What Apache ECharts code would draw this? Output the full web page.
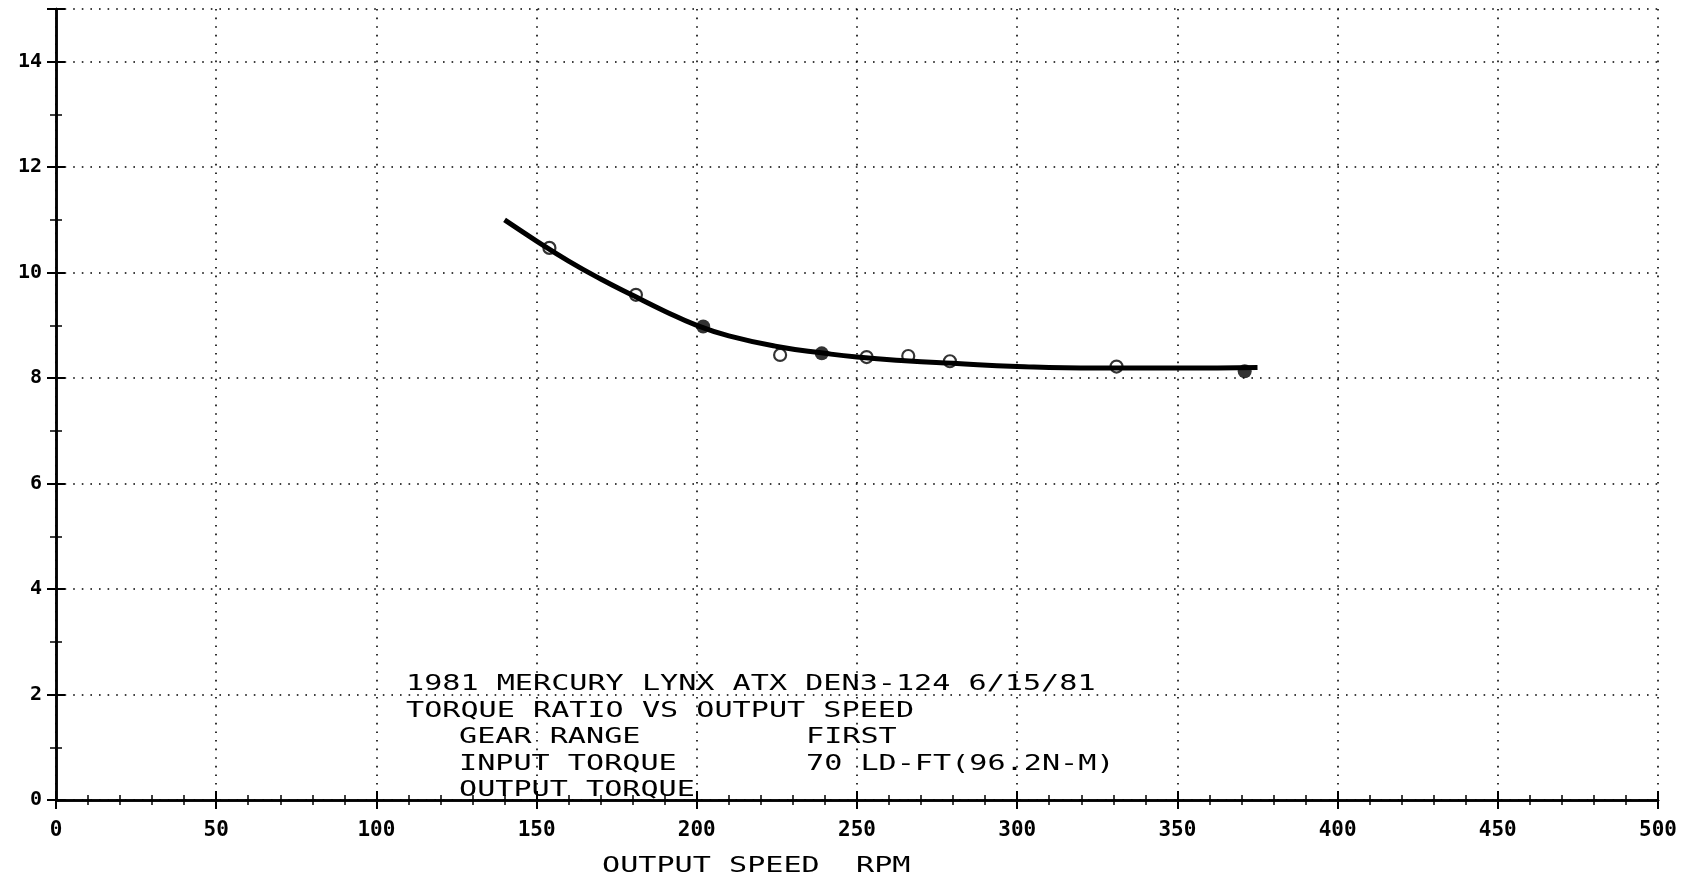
<!DOCTYPE html>
<html>
<head>
<meta charset="utf-8">
<script src="https://cdn.jsdelivr.net/npm/echarts@6/dist/echarts.min.js"></script>
<style>
html,body{margin:0;padding:0;background:#fff;}
#chart{width:1696px;height:881px;}
</style>
</head>
<body>
<div id="chart"></div>
<script>
// fitted curve: output speed (rpm) vs torque ratio
const curveSpeed = [140, 150, 160, 170, 180, 190, 200, 210, 225, 240, 250, 265, 280, 300, 325, 350, 375];
const curveRatio = [11.0, 10.6, 10.22, 9.88, 9.57, 9.27, 9.0, 8.8, 8.6, 8.47, 8.4, 8.33, 8.28, 8.22, 8.19, 8.19, 8.2];
// measured points (open circles)
const openSpeed = [154, 181, 226, 253, 266, 279, 331];
const openRatio = [10.47, 9.58, 8.44, 8.4, 8.42, 8.32, 8.22];
// measured points (filled)
const filledSpeed = [202, 239, 371];
const filledRatio = [8.98, 8.47, 8.13];

const xTicks = { min: 0, max: 500, interval: 50 };
const yTicks = { min: 0, max: 15, interval: 2 };

const noteLines = [
  { text: '1981 MERCURY LYNX ATX DEN3-124 6/15/81', x: 406, y: 684 },
  { text: 'TORQUE RATIO VS OUTPUT SPEED', x: 406, y: 711 },
  { text: 'GEAR RANGE', x: 459, y: 737 },
  { text: 'FIRST', x: 806, y: 737 },
  { text: 'INPUT TORQUE', x: 459, y: 764 },
  { text: '70 LD-FT(96.2N-M)', x: 806, y: 764 },
  { text: 'OUTPUT TORQUE', x: 459, y: 790 }
];
const xAxisTitle = 'OUTPUT SPEED  RPM';

const FONT = '"DejaVu Sans Mono", "Liberation Mono", monospace';
const zip = (a, b) => a.map((v, i) => [v, b[i]]);

const chart = echarts.init(document.getElementById('chart'), null, { renderer: 'canvas' });

const axisLine = { show: true, lineStyle: { color: '#000', width: 2.5 } };
const tickIn = () => ({ show: true, inside: true, length: 9, lineStyle: { color: '#000', width: 2 } });
const minorIn = () => ({ show: true, splitNumber: 5, length: 5, lineStyle: { color: '#000', width: 1.5 } });
const minorInY = () => ({ show: true, splitNumber: 2, length: 6, lineStyle: { color: '#000', width: 1.5 } });
const dotted = () => ({ show: true, lineStyle: { color: '#000', width: 1.6, type: [1.6, 7] } });

const graphics = noteLines.map(l => ({
  type: 'text', x: l.x, y: l.y, scaleX: 1.37, z: 100,
  style: { text: l.text, font: '22px ' + FONT, fill: '#000', textAlign: 'left', textVerticalAlign: 'middle' }
}));
graphics.push({
  type: 'text', x: 602, y: 866, scaleX: 1.37, z: 100,
  style: { text: xAxisTitle, font: '22px ' + FONT, fill: '#000', textAlign: 'left', textVerticalAlign: 'middle' }
});

chart.setOption({
  animation: false,
  backgroundColor: '#fff',
  grid: { left: 56, right: 38, top: 9, bottom: 81 },
  xAxis: [
    {
      type: 'value', position: 'bottom', min: xTicks.min, max: xTicks.max, interval: xTicks.interval,
      axisLine, axisTick: tickIn(), minorTick: minorIn(), splitLine: dotted(),
      axisLabel: { color: '#000', fontFamily: FONT, fontSize: 21, fontWeight: 'bold', margin: 20 }
    },
    {
      type: 'value', position: 'top', min: xTicks.min, max: xTicks.max, interval: xTicks.interval,
      axisLine, axisTick: tickIn(), minorTick: minorIn(), splitLine: { show: false },
      axisLabel: { show: false }
    }
  ],
  yAxis: [
    {
      type: 'value', position: 'left', min: yTicks.min, max: yTicks.max, interval: yTicks.interval,
      axisLine, axisTick: tickIn(), minorTick: minorInY(), splitLine: dotted(),
      axisLabel: { color: '#000', fontFamily: FONT, fontSize: 20, fontWeight: 'bold', margin: 14, showMaxLabel: false,
        formatter: v => (v === 15 ? '' : String(v)) }
    },
    {
      type: 'value', position: 'right', min: yTicks.min, max: yTicks.max, interval: yTicks.interval,
      axisLine, axisTick: tickIn(), minorTick: minorInY(), splitLine: { show: false },
      axisLabel: { show: false }
    }
  ],
  series: [
    {
      type: 'line', data: zip(curveSpeed, curveRatio), smooth: true, symbol: 'none',
      lineStyle: { color: '#000', width: 5 }, z: 3
    },
    {
      type: 'scatter', data: zip(openSpeed, openRatio), symbol: 'circle', symbolSize: 12,
      itemStyle: { color: 'rgba(0,0,0,0)', borderColor: '#000', borderWidth: 2.2 }, z: 4
    },
    {
      type: 'scatter', data: zip(filledSpeed, filledRatio), symbol: 'circle', symbolSize: 14,
      itemStyle: { color: '#000' }, z: 4
    }
  ],
  graphic: graphics
});
</script>
</body>
</html>
